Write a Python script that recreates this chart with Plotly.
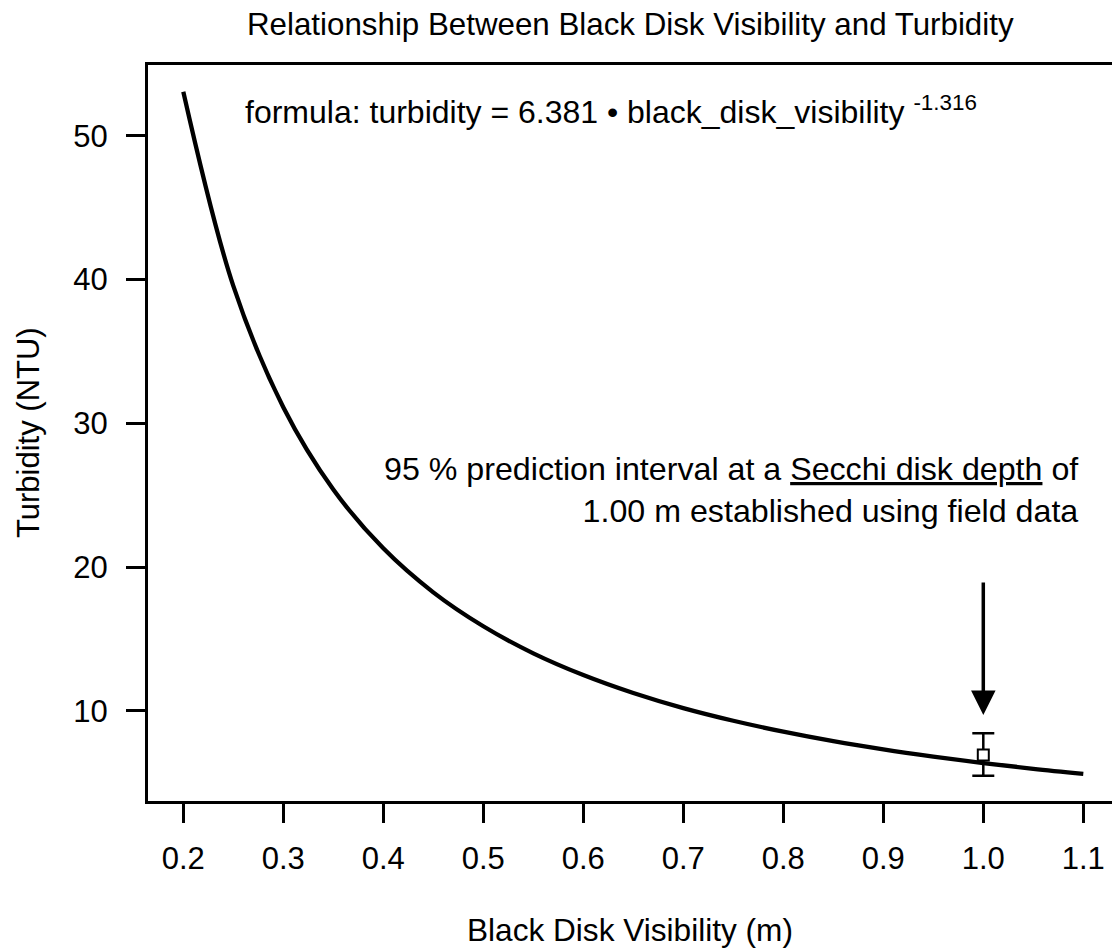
import plotly.graph_objects as go

# Fitted power curve: turbidity vs. black disk visibility
visibility_m = [0.20, 0.25, 0.30, 0.35, 0.40, 0.45, 0.50, 0.55, 0.60, 0.65,
                0.70, 0.75, 0.80, 0.85, 0.90, 0.95, 1.00, 1.05, 1.10]
turbidity_ntu = [53.06, 39.56, 31.12, 25.40, 21.31, 18.25, 15.89, 14.01, 12.50, 11.25,
                 10.20, 9.32, 8.56, 7.90, 7.33, 6.83, 6.38, 5.98, 5.63]

# Field-data prediction at a Secchi depth of 1.00 m
field_x = [1.00]
field_y = [6.94]
field_upper = [8.45]
field_lower = [5.50]

x_ticks = [0.2, 0.3, 0.4, 0.5, 0.6, 0.7, 0.8, 0.9, 1.0, 1.1]
y_ticks = [10, 20, 30, 40, 50]

FONT = "Liberation Sans, Arial, sans-serif"

fig = go.Figure()

fig.add_trace(go.Scatter(
    x=visibility_m, y=turbidity_ntu, mode="lines",
    line=dict(color="black", width=4.3, shape="spline", smoothing=1.0),
    hoverinfo="skip", showlegend=False,
))

fig.add_trace(go.Scatter(
    x=field_x, y=field_y, mode="markers",
    marker=dict(symbol="square", size=11, color="white",
                line=dict(color="black", width=2)),
    error_y=dict(type="data", symmetric=False,
                 array=[u - v for u, v in zip(field_upper, field_y)],
                 arrayminus=[v - l for v, l in zip(field_y, field_lower)],
                 color="black", thickness=2.5, width=11),
    showlegend=False,
))

annotations = [
    dict(text="Relationship Between Black Disk Visibility and Turbidity",
         xref="paper", yref="paper", x=0.5, y=1.055,
         xanchor="center", yanchor="middle", showarrow=False,
         font=dict(size=31.3, color="black", family=FONT)),
    dict(text="Turbidity (NTU)", textangle=-90,
         xref="paper", yref="paper", x=0, y=0.5, xshift=-120,
         xanchor="center", yanchor="middle", showarrow=False,
         font=dict(size=31, color="black", family=FONT)),
    dict(text="Black Disk Visibility (m)",
         xref="paper", yref="paper", x=0.5, y=0, yshift=-129,
         xanchor="center", yanchor="middle", showarrow=False,
         font=dict(size=31.6, color="black", family=FONT)),
    dict(text="formula: turbidity = 6.381 \u2022 black_disk_visibility <sup>-1.316</sup>",
         x=0.2597, y=51.8, xref="x", yref="y",
         xanchor="left", yanchor="middle", showarrow=False,
         font=dict(size=32, color="black", family=FONT)),
    dict(text="95 % prediction interval at a <u>Secchi disk depth</u> of<br>"
              "1.00 m established using field data",
         x=1.097, y=25.4, xref="x", yref="y",
         xanchor="right", yanchor="middle", align="right", showarrow=False,
         font=dict(size=32.2, color="black", family=FONT)),
    dict(text=" ", x=1.0, y=9.72, xref="x", yref="y",
         showarrow=True, ax=0, ay=-141, axref="pixel", ayref="pixel",
         arrowhead=2, arrowsize=1.4, arrowwidth=3.5, arrowcolor="black"),
]

fig.update_layout(
    width=1112, height=949,
    margin=dict(l=148, r=0, t=65, b=148, pad=0),
    paper_bgcolor="white", plot_bgcolor="white",
    font=dict(family=FONT, color="black"),
    annotations=annotations,
    showlegend=False,
)

fig.update_xaxes(
    range=[0.1647, 1.1287], tickvals=x_ticks, tickformat=".1f",
    showgrid=False, zeroline=False,
    showline=True, linecolor="black", linewidth=3, mirror=True,
    ticks="outside", ticklen=19, tickwidth=3, tickcolor="black",
    tickfont=dict(size=31, family=FONT, color="black"),
    ticklabelstandoff=9,
)
fig.update_yaxes(
    range=[3.74, 54.92], tickvals=y_ticks,
    showgrid=False, zeroline=False,
    showline=True, linecolor="black", linewidth=3, mirror=False,
    ticks="outside", ticklen=19, tickwidth=3, tickcolor="black",
    tickfont=dict(size=31, family=FONT, color="black"),
    ticklabelstandoff=12,
)

fig.write_html("out.html")
